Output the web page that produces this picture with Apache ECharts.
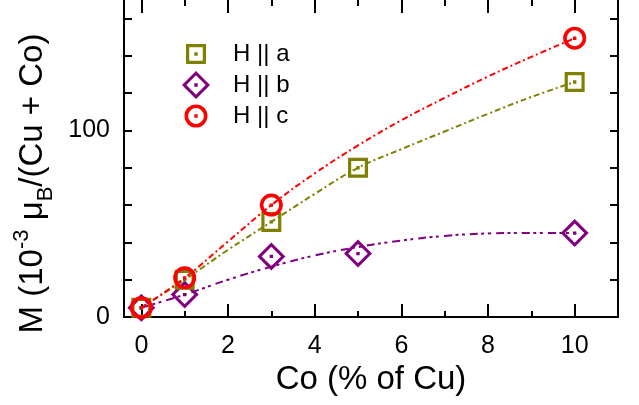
<!DOCTYPE html>
<html>
<head>
<meta charset="utf-8">
<script src="https://cdn.jsdelivr.net/npm/echarts@6/dist/echarts.min.js"></script>
<style>
    html, body { margin: 0; padding: 0; background: #fff; }
    #main { width: 639px; height: 405px; }
</style>
</head>
<body>
<div id="main"></div>
<script>
// Measured points, x = Co (% of Cu), y = M (10^-3 muB per Cu+Co)
const seriesNames = ['H || a', 'H || b', 'H || c'];
const pointsA = [[0, 5], [1, 20], [3, 51], [5, 80], [10, 126]];
const pointsB = [[0, 5], [1, 12], [3, 32.5], [5, 34], [10, 45]];
const pointsC = [[0, 5], [1, 21], [3, 60], [10, 149.5]];

// Dash-dot guide curves
const fitA = [[0, 5], [1, 20], [2, 36], [3, 51], [4, 66], [5, 80], [6, 90], [7, 99.5], [8, 109], [9, 118], [10, 126]];
const fitB = [[0, 5], [1, 12], [2, 20], [3, 27], [4, 33], [5, 37.5], [6, 41], [7, 43.5], [8, 44.8], [9, 45.1], [10, 45]];
const fitC = [[0, 5], [1, 21], [2, 40.5], [3, 60], [4, 77], [5, 92], [6, 105.5], [7, 117.5], [8, 129], [9, 139.5], [10, 149.5]];

// Tick positions
const xMajor = [0, 2, 4, 6, 8, 10];
const xMinor = [1, 3, 5, 7, 9];
const yTicks = [0, 20, 40, 60, 80, 100, 120, 140, 160];
const yLabels = [0, 100];

const colors = { a: '#808000', b: '#800080', c: '#ff0000' };
const FONT = '"Liberation Sans", Arial, sans-serif';

// hollow markers with a centre dot, all in a common 28x28 box
const BOX = 'M0 0 M28 28 ';
const DOT = 'M12.3 12.3 H15.7 V15.7 H12.3 Z';
const symSquare = 'path://' + BOX + 'M4 4 H24 V24 H4 Z M7.2 7.2 V20.8 H20.8 V7.2 Z ' + DOT;
const symDiamond = 'path://' + BOX + 'M14 0 L28 14 L14 28 L0 14 Z M14 4.3 L4.3 14 L14 23.7 L23.7 14 Z ' + DOT;
const symCircle = 'path://' + BOX + 'M2.5 14 A11.5 11.5 0 1 1 25.5 14 A11.5 11.5 0 1 1 2.5 14 Z ' +
    'M6.1 14 A7.9 7.9 0 1 0 21.9 14 A7.9 7.9 0 1 0 6.1 14 Z ' + DOT;

const chart = echarts.init(document.getElementById('main'), null, { renderer: 'canvas' });

const X_MIN = -0.4, X_MAX = 11;
const tickLine = { color: '#000', width: 2 };

function xAxisDef(position, values, length, showLine, showLabel) {
    return {
        type: 'value', min: X_MIN, max: X_MAX, position: position,
        axisLine: { show: showLine, onZero: false, lineStyle: { color: '#000', width: 2 } },
        axisTick: { show: true, inside: true, length: length, customValues: values, lineStyle: tickLine },
        axisLabel: showLabel
            ? { show: true, customValues: values, fontSize: 25, color: '#000', fontFamily: FONT, margin: 17 }
            : { show: false },
        splitLine: { show: false }
    };
}

const xAxes = [
    xAxisDef('bottom', xMajor, 13, true, true),
    xAxisDef('bottom', xMinor, 6, false, false),
    xAxisDef('top', xMajor, 13, false, false),
    xAxisDef('top', xMinor, 6, false, false)
];
Object.assign(xAxes[0], {
    name: 'Co (% of Cu)',
    nameLocation: 'middle',
    nameGap: 46,
    nameTextStyle: { fontSize: 33, color: '#000', fontFamily: FONT }
});

function yAxisDef(position) {
    return {
        type: 'value', min: 0, max: 170, position: position,
        axisLine: { show: true, onZero: false, lineStyle: { color: '#000', width: 2 } },
        axisTick: { inside: true, length: 8, customValues: yTicks, lineStyle: tickLine },
        axisLabel: { show: false },
        splitLine: { show: false }
    };
}

const yLeft = yAxisDef('left');
Object.assign(yLeft, {
    axisLabel: { customValues: yLabels, fontSize: 25, color: '#000', fontFamily: FONT, margin: 14 },
    name: '{a|M (10}{s|-3}{a| μ}{b|B}{a|/(Cu + Co)}',
    nameLocation: 'middle',
    nameRotate: 90,
    nameGap: 62,
    nameTextStyle: {
        color: '#000',
        fontFamily: FONT,
        padding: [0, 50, 0, 0],
        rich: {
            a: { fontSize: 33, fontFamily: FONT, color: '#000' },
            s: { fontSize: 22, fontFamily: FONT, color: '#000', padding: [0, 0, 22, 0] },
            b: { fontSize: 22, fontFamily: FONT, color: '#000', padding: [26, 0, 0, 0] }
        }
    }
});

const option = {
    animation: false,
    backgroundColor: '#fff',
    grid: { left: 124, right: 21, top: 0, bottom: 88 },
    legend: {
        orient: 'vertical',
        left: 177,
        top: 35,
        itemWidth: 64,
        itemHeight: 28,
        itemGap: 3,
        selectedMode: false,
        textStyle: { fontSize: 24, color: '#000', fontFamily: FONT },
        data: [
            { name: seriesNames[0], icon: symSquare },
            { name: seriesNames[1], icon: symDiamond },
            { name: seriesNames[2], icon: symCircle }
        ]
    },
    xAxis: xAxes,
    yAxis: [yLeft, yAxisDef('right')],
    series: [
        {
            name: 'fit a', type: 'line', data: fitA, smooth: 0.4, showSymbol: false, silent: true,
            lineStyle: { color: colors.a, width: 2, type: [6, 3, 2, 3] }, z: 2
        },
        {
            name: 'fit b', type: 'line', data: fitB, smooth: 0.4, showSymbol: false, silent: true,
            lineStyle: { color: colors.b, width: 2, type: [8, 3.5, 3, 3.5, 3, 5] }, z: 2
        },
        {
            name: 'fit c', type: 'line', data: fitC, smooth: 0.4, showSymbol: false, silent: true,
            lineStyle: { color: colors.c, width: 2, type: [6, 3, 2, 3] }, z: 2
        },
        {
            name: seriesNames[1], type: 'scatter', data: pointsB, symbol: symDiamond, symbolSize: 28,
            itemStyle: { color: colors.b, opacity: 1 }, z: 3
        },
        {
            name: seriesNames[0], type: 'scatter', data: pointsA, symbol: symSquare, symbolSize: 28,
            itemStyle: { color: colors.a, opacity: 1 }, z: 3
        },
        {
            name: seriesNames[2], type: 'scatter', data: pointsC, symbol: symCircle, symbolSize: 28,
            itemStyle: { color: colors.c, opacity: 1 }, z: 3
        }
    ]
};

chart.setOption(option);
</script>
</body>
</html>
